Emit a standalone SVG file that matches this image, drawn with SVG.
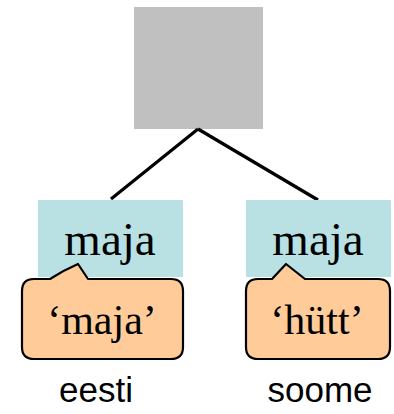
<svg xmlns="http://www.w3.org/2000/svg" width="394" height="414" viewBox="0 0 394 414">
  <style>
    .word { fill: #B9E0E3; }
    .callout { fill: #FFCC99; stroke: #000; stroke-width: 2.2; stroke-linejoin: round; }
    .serif { font-family: "Liberation Serif", "Times New Roman", serif; fill: #000; text-anchor: middle; }
    .sans { font-family: "Liberation Sans", Arial, sans-serif; fill: #000; text-anchor: middle; font-size: 35px; }
    .edge { stroke: #000; stroke-width: 3.2; fill: none; }
  </style>

  <!-- root concept -->
  <g id="root">
    <rect x="134" y="7" width="129" height="122" fill="#C0C0C0"/>
  </g>

  <!-- branches -->
  <g id="connectors">
    <line class="edge" x1="198" y1="129" x2="111" y2="199"/>
    <line class="edge" x1="198" y1="129" x2="318" y2="200"/>
  </g>

  <!-- Estonian word -->
  <g id="eesti-word">
    <rect class="word" x="38" y="200" width="145" height="77"/>
    <text class="serif" x="110" y="255" font-size="47">maja</text>
  </g>
  <g id="eesti-meaning">
    <path class="callout" d="M34,279 L50,279 Q64,270 78,264 L88,279 L171,279 Q183,279 183,291 L183,347 Q183,359 171,359 L34,359 Q22,359 22,347 L22,291 Q22,279 34,279 Z"/>
    <text class="serif" x="102" y="334" font-size="42">‘maja’</text>
  </g>
  <g id="eesti-label">
    <text class="sans" x="96" y="402">eesti</text>
  </g>

  <!-- Finnish word -->
  <g id="soome-word">
    <rect class="word" x="246" y="200" width="145" height="77"/>
    <text class="serif" x="318" y="255" font-size="47">maja</text>
  </g>
  <g id="soome-meaning">
    <path class="callout" d="M258,279 L272,279 L286,264 L305,279 L378,279 Q390,279 390,291 L390,347 Q390,359 378,359 L258,359 Q246,359 246,347 L246,291 Q246,279 258,279 Z"/>
    <text class="serif" x="317" y="334" font-size="42">‘hütt’</text>
  </g>
  <g id="soome-label">
    <text class="sans" x="320" y="402">soome</text>
  </g>
</svg>
